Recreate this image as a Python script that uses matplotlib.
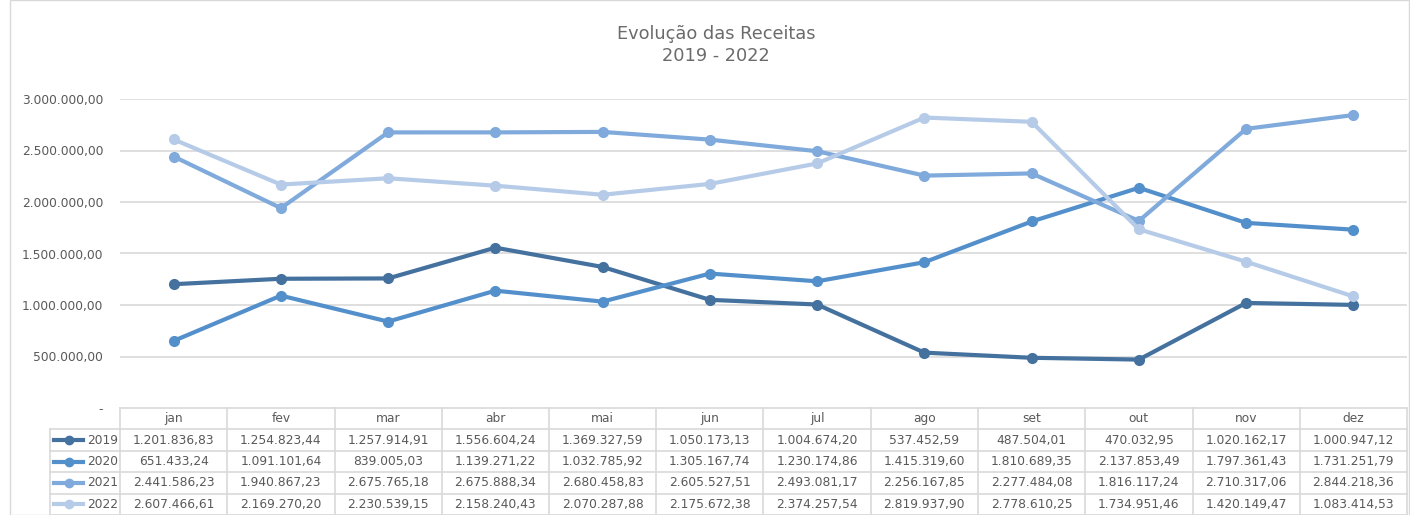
import matplotlib

matplotlib.use("Agg")
import matplotlib.pyplot as plt
from matplotlib.lines import Line2D
from matplotlib.patches import Rectangle

months = ["jan", "fev", "mar", "abr", "mai", "jun", "jul", "ago", "set", "out", "nov", "dez"]
years = ["2019", "2020", "2021", "2022"]

r2019 = [1201836.83, 1254823.44, 1257914.91, 1556604.24, 1369327.59, 1050173.13,
         1004674.20, 537452.59, 487504.01, 470032.95, 1020162.17, 1000947.12]
r2020 = [651433.24, 1091101.64, 839005.03, 1139271.22, 1032785.92, 1305167.74,
         1230174.86, 1415319.60, 1810689.35, 2137853.49, 1797361.43, 1731251.79]
r2021 = [2441586.23, 1940867.23, 2675765.18, 2675888.34, 2680458.83, 2605527.51,
         2493081.17, 2256167.85, 2277484.08, 1816117.24, 2710317.06, 2844218.36]
r2022 = [2607466.61, 2169270.20, 2230539.15, 2158240.43, 2070287.88, 2175672.38,
         2374257.54, 2819937.90, 2778610.25, 1734951.46, 1420149.47, 1083414.53]
series = [r2019, r2020, r2021, r2022]
colors = ["#44719E", "#5390CB", "#7FAADB", "#B6CBE8"]

TEXT = "#595959"
GRID = "#D9D9D9"
W, H = 1410, 515
FS = 8.8


def brl(v):
    s = f"{v:,.2f}"
    return s.replace(",", "X").replace(".", ",").replace("X", ".")


fig = plt.figure(figsize=(W / 100, H / 100), dpi=100)
fig.patches.append(Rectangle((10 / W, 0), 1 - 11 / W, 1, transform=fig.transFigure,
                             fill=False, edgecolor=GRID, linewidth=1))

# plot area (pixels: x 120..1407, y 99..408)
x0, x1 = 120, 1407
ytop, y0 = 99, 408
ax = fig.add_axes([x0 / W, (H - y0) / H, (x1 - x0) / W, (y0 - ytop) / H])
ax.set_xlim(-0.5, 11.5)
ax.set_ylim(0, 3000000)
for s in ax.spines.values():
    s.set_visible(False)
ax.set_xticks([])
yt = [0, 500000, 1000000, 1500000, 2000000, 2500000, 3000000]
ax.set_yticks(yt)
ax.set_yticklabels(["-"] + [brl(v) for v in yt[1:]], color=TEXT, fontsize=FS)
ax.tick_params(axis="y", length=0, pad=12)
for v in yt[1:]:
    ax.axhline(v, color=GRID, linewidth=1.2, zorder=0)

xs = list(range(12))
for vals, c in zip(series, colors):
    ax.plot(xs, vals, color=c, linewidth=3, marker="o", markersize=7, clip_on=False,
            solid_capstyle="round")

fig.text(0.5 + 11 / W, (H - 45) / H, "Evolução das Receitas\n2019 - 2022", ha="center",
         va="center", fontsize=12.8, color="#6b6b6b", linespacing=1.35)

# data table (pixels: x 50..1407, y 408..515)
colw = (x1 - x0) / 12
tleft = 50
tx0 = -0.5 - (x0 - tleft) / colw
tax = fig.add_axes([tleft / W, 0, (x1 - tleft) / W, (H - y0) / H])
tax.set_xlim(tx0, 11.5)
tax.set_ylim(5, 0)
tax.axis("off")

lc = dict(color=GRID, linewidth=1.2, clip_on=False)
tax.plot([-0.5, 11.5], [0, 0], **lc)
for r in range(1, 6):
    tax.plot([tx0, 11.5], [r, r], **lc)
for i in range(13):
    tax.plot([i - 0.5, i - 0.5], [0, 5], **lc)
tax.plot([tx0, tx0], [1, 5], **lc)

for i, m in enumerate(months):
    tax.text(i, 0.5, m, ha="center", va="center", fontsize=FS, color=TEXT)
for r, (yr, vals, c) in enumerate(zip(years, series, colors), start=1):
    kx = [tx0 + 0.04, tx0 + 0.31]
    tax.add_line(Line2D(kx, [r + 0.5] * 2, color=c, linewidth=3, clip_on=False))
    tax.add_line(Line2D([sum(kx) / 2], [r + 0.5], color=c, marker="o", markersize=6,
                        clip_on=False))
    tax.text(-0.52, r + 0.5, yr, ha="right", va="center", fontsize=FS, color=TEXT)
    for i, v in enumerate(vals):
        tax.text(i, r + 0.5, brl(v), ha="center", va="center", fontsize=FS, color=TEXT)

fig.savefig("out.png", dpi=100)
